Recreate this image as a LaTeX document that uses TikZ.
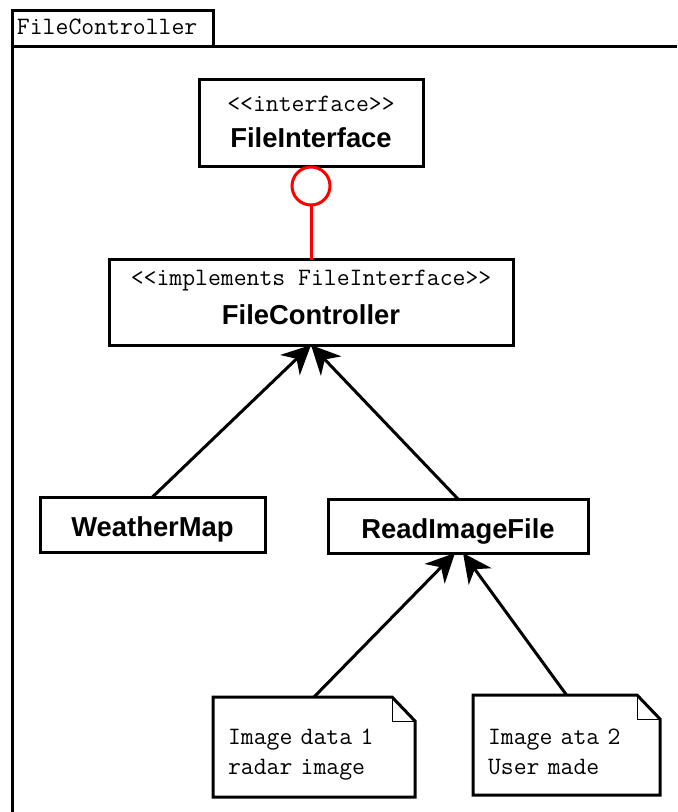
\documentclass[tikz,border=0pt]{standalone}
\usepackage{fontspec}
\setsansfont{Liberation Sans}
\usepackage{tikz}
\usetikzlibrary{arrows.meta}
\usetikzlibrary{shapes.geometric}
\usetikzlibrary{positioning}
\tikzset{
  % filled arrow tip for the generalisation lines
  >={Stealth[length=14.5pt, width=14pt, inset=4.5pt]},
  % common styles
  inherit/.style={draw, ->},
  frameline/.style={draw, line width=1.5pt}
}
\newcommand{\classname}{\sffamily\bfseries\fontsize{13.7}{16}\selectfont}

\begin{document}
\begin{tikzpicture}[x=0.5pt, y=-0.5pt, line width=1.5pt]
    \useasboundingbox (0,0) rectangle (677,812);
    % Define styles
    \tikzstyle{classbox} = [rectangle, draw, fill=white, align=center, inner sep=0pt, outer sep=0pt, font=\ttfamily\fontsize{12.5}{13}\selectfont]
    \tikzstyle{notebox} = [rectangle, inner xsep=7.5pt, inner ysep=0pt, outer sep=0pt, minimum height=50pt, align=left, font=\ttfamily\fontsize{12.5}{15}\selectfont]
    \tikzstyle{lolli} = [circle, draw=red, minimum size=19pt, inner sep=0pt, outer sep=0pt]

    % Package tab and frame
    \node [rectangle, draw, anchor=north west, minimum height=18pt, text width=95.5pt, inner xsep=2.5pt, outer sep=0pt, align=left, font=\ttfamily\fontsize{12.5}{13}\selectfont] (tab) at (12,11) {\rule[-2pt]{0pt}{0pt}FileController};
    \coordinate (frameright) at (677,47);
    \coordinate (framebottom) at (12,812);
    \path [frameline] (tab.south east) -- (frameright);
    \path [frameline] (tab.north west) -- (framebottom);

    % Place nodes
    \node [classbox, minimum width=112pt, minimum height=43.5pt] (fileif) at (311,123.5) {<<interface>>\\[5pt]{\classname FileInterface}\rule[-2pt]{0pt}{0pt}};
    \node [lolli, below=0pt of fileif] (socket) {};
    \node [classbox, minimum width=202pt, minimum height=42.5pt] (filectl) at (311,302.5) {<<implements FileInterface>>\\[6.5pt]{\classname FileController}\rule[-5pt]{0pt}{0pt}};
    \node [classbox, minimum width=112.5pt, minimum height=27.5pt, font=\classname] (weather) at (152.5,524.5) {\rule{0pt}{15pt}WeatherMap};
    \node [classbox, minimum width=130pt, minimum height=27pt, font=\classname] (readimg) at (458,526) {\rule{0pt}{15pt}ReadImageFile};
    \node [notebox, text width=86pt] (radar) at (314,747) {\rule{0pt}{15pt}Image data 1\\radar image};
    \node [notebox, text width=78.5pt] (user) at (566.5,745) {\rule{0pt}{15pt}Image ata 2\\User made};

    % Note outlines with folded corner
    \foreach \n in {radar, user} {
        \draw ([xshift=-11.5pt]\n.north east) -- (\n.north west) -- (\n.south west) -- (\n.south east) -- ([yshift=-12pt]\n.north east) -- cycle;
        \draw [line width=0.5pt] ([xshift=-11.5pt]\n.north east) |- ([yshift=-12pt]\n.north east);
    }

    % Draw edges
    \path [draw=red] (socket) -- (filectl);
    \path [inherit] (weather.north) -- (filectl.south);
    \path [inherit] (readimg.north) -- (filectl.south);
    \path [inherit] (radar.north) -- ([xshift=-1.5pt]readimg.south);
    \path [inherit] (user.north) -- ([xshift=2.5pt]readimg.south);

\end{tikzpicture}
\end{document}
